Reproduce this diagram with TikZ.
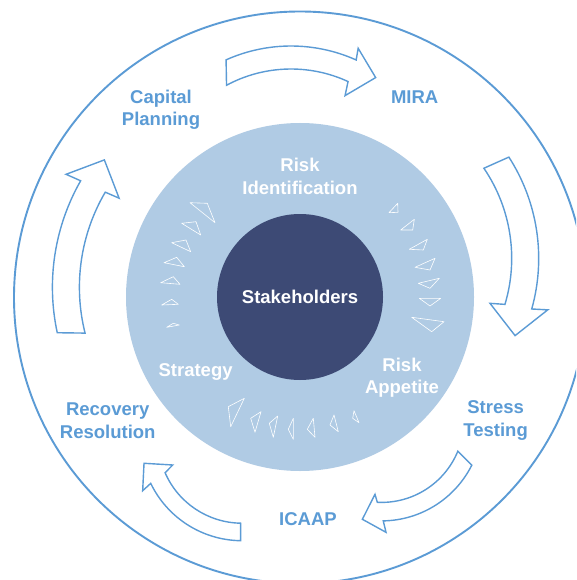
\documentclass[tikz,border=0pt]{standalone}
\usepackage{fontspec}
\setmainfont{Liberation Sans}
\definecolor{ringblue}{HTML}{5B9BD5}
\definecolor{discblue}{HTML}{B0CBE4}
\definecolor{corenavy}{HTML}{3D4A75}
\begin{document}
\begin{tikzpicture}[x=1pt,y=1pt,
  outerlabel/.style={text=ringblue,font=\fontsize{18.5}{22.5}\selectfont\bfseries,align=center},
  innerlabel/.style={text=white,font=\fontsize{18.5}{22.5}\selectfont\bfseries,align=center},
  blockarrow/.style={draw=ringblue,line width=1.4pt,fill=white},
  flowmark/.style={draw=white,line width=0.6pt,line join=round}]
  \useasboundingbox (0,0) rectangle (576,-580);
  \clip (0,0) rectangle (576,-580);
  \fill[white] (0,0) rectangle (576,-580);
  \draw[ringblue,line width=1.9pt] (300,-297.5) circle (286);
  \fill[discblue] (300,-297) circle (174);
  \fill[corenavy] (300,-297) circle (83);
  \draw[blockarrow,shift={(291,-205)}] (118.3:136) arc[start angle=118.3,end angle=65.2,radius=136]
    -- (63.7:122) -- (56.4:153) -- (66.8:170.5) -- (65.8:159)
    arc[start angle=65.8,end angle=114.1,radius=159] -- cycle;
  \draw[blockarrow,shift={(351.7,-258.4)}] (34.3:160) arc[start angle=34.3,end angle=-16.7,radius=160]
    -- (-18:145.4) -- (-25.3:180.7) -- (-14.7:202.7) -- (-15.7:187)
    arc[start angle=-15.7,end angle=32.8,radius=187] -- cycle;
  \draw[blockarrow,shift={(381.5,-419.9)}] (-22.3:82.5) arc[start angle=-22.3,end angle=-92.9,radius=82.5]
    -- (-95:74.7) -- (-100.9:101.2) -- (-87.7:112.5) -- (-89:101)
    arc[start angle=-89,end angle=-26.6,radius=101] -- cycle;
  \draw[blockarrow,shift={(242.1,-439.2)}] (269:84) arc[start angle=269,end angle=203.5,radius=84]
    -- (200.4:74) -- (193.8:101) -- (207.4:112) -- (205.8:101.5)
    arc[start angle=205.8,end angle=269.2,radius=101.5] -- cycle;
  \draw[blockarrow,shift={(267.4,-287.3)}] (194.1:188) arc[start angle=194.1,end angle=149.6,radius=188]
    -- (149:173) -- (142:206.9) -- (150.7:230.9) -- (150.3:215)
    arc[start angle=150.3,end angle=192.2,radius=215] -- cycle;
  \draw[flowmark]
    (190,-202.7) -- (207.3,-203.3) -- (215,-222.7) -- cycle
    (181.7,-223.3) -- (196,-221.7) -- (200.7,-235) -- cycle
    (171.7,-242.7) -- (186,-240) -- (190.7,-251.7) -- cycle
    (164,-262.7) -- (176.7,-257.3) -- (184.3,-266.7) -- cycle
    (160.7,-282.7) -- (173.3,-276.7) -- (180,-284.3) -- cycle
    (161.7,-305) -- (171.7,-299.3) -- (178.3,-304.3) -- cycle
    (166.7,-327.3) -- (173.3,-323.3) -- (179.3,-325) -- cycle;
  \draw[flowmark]
    (389,-212.7) -- (397.7,-203.3) -- (398,-212.3) -- cycle
    (400.7,-230) -- (414.3,-219.3) -- (412.7,-230) -- cycle
    (409.3,-249.3) -- (427.3,-239.3) -- (423.3,-250) -- cycle
    (415,-267.3) -- (435,-258.3) -- (430,-270) -- cycle
    (418.3,-283.3) -- (439.3,-278.3) -- (430,-288.3) -- cycle
    (419.3,-298.3) -- (440.7,-298.3) -- (430,-306) -- cycle
    (411.7,-317.3) -- (444,-321.7) -- (431.7,-331.7) -- cycle;
  \draw[flowmark]
    (228.3,-406.7) -- (244.3,-398.3) -- (230.7,-426.7) -- cycle
    (250.7,-418.3) -- (261,-411.7) -- (255,-432.3) -- cycle
    (269.3,-423.3) -- (277.7,-416) -- (273.3,-437.3) -- cycle
    (288.3,-429.3) -- (293.3,-418.3) -- (293.3,-439.3) -- cycle
    (307.3,-429.3) -- (313.3,-418.3) -- (315,-437.3) -- cycle
    (330,-425) -- (334,-415) -- (338.3,-431.7) -- cycle
    (352.7,-418.3) -- (354,-410.7) -- (359,-422.7) -- cycle;
  \node[innerlabel,anchor=base] (stake) at (300,-303.7) {Stakeholders};
  \node[innerlabel] (riskid) at (300,-176.5) {Risk\\Identification};
  \node[innerlabel,anchor=base] (strat) at (195.6,-376) {Strategy};
  \node[innerlabel] (appetite) at (402,-377.5) {Risk\\Appetite};
  \node[outerlabel] (capital) at (161,-110) {Capital\\Planning};
  \node[outerlabel,anchor=base] (mira) at (414.7,-104) {MIRA};
  \node[outerlabel] (stress) at (495.6,-420.5) {Stress\\Testing};
  \node[outerlabel,anchor=base] (icaap) at (308,-525) {ICAAP};
  \node[outerlabel] (recovery) at (107.7,-420.5) {Recovery\\Resolution};
\end{tikzpicture}
\end{document}
